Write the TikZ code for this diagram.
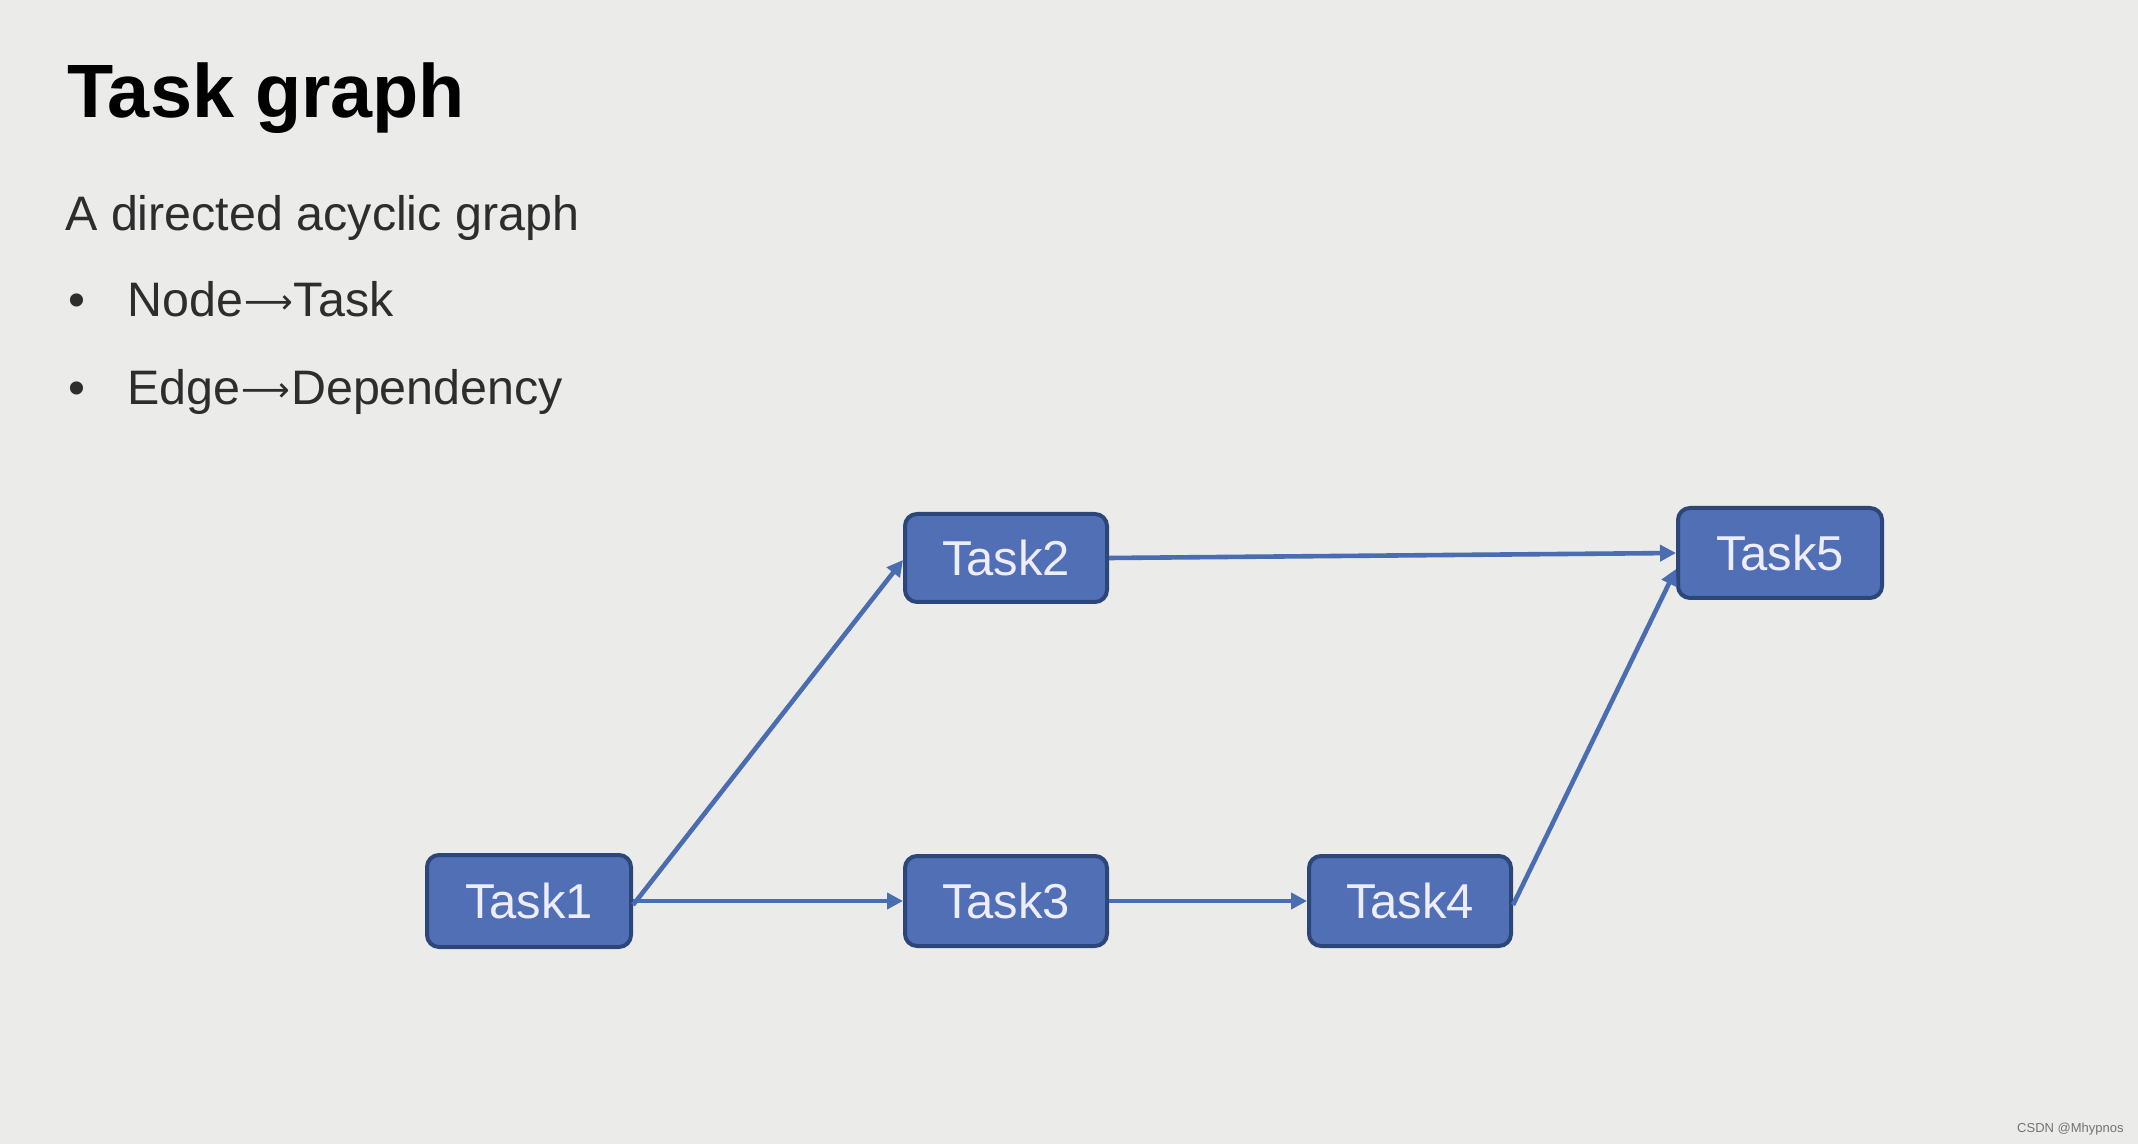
\documentclass[tikz,border=0pt]{standalone}
\usepackage{fontspec}
\setmainfont{Liberation Sans}
\newfontfamily\arrowfont{DejaVu Sans}
\usetikzlibrary{arrows.meta}
\definecolor{bgc}{RGB}{235,235,233}
\definecolor{boxfill}{RGB}{80,111,181}
\definecolor{boxline}{RGB}{45,70,122}
\definecolor{edgec}{RGB}{74,108,176}
\definecolor{txtc}{RGB}{45,45,45}
\newcommand{\longarr}{\kern0.5pt{\arrowfont\fontsize{17}{17}\selectfont\raisebox{1.5pt}{⟶}}\kern0.5pt}
\tikzset{
  taskbox/.style={draw=boxline, line width=2pt, fill=boxfill, rounded corners=6pt,
    minimum width=100pt, minimum height=45pt, inner sep=0pt,
    text=white!93!blue, font=\fontsize{24.5}{28}\selectfont},
  dep/.style={draw=edgec, line width=2.3pt, -{Triangle[length=8pt,width=8pt]}},
  bodytext/.style={anchor=base west, inner sep=0pt, text=txtc, font=\fontsize{24.2}{28}\selectfont}
}
\begin{document}
\begin{tikzpicture}[x=0.5pt,y=-0.5pt]
\fill[bgc] (0,0) rectangle (2138,1144);
\useasboundingbox (0,0) rectangle (2138,1144);
\node[anchor=base west, inner sep=0pt, font=\fontsize{37.8}{44}\selectfont\bfseries] (title) at (67,118) {Task graph};
\node[bodytext] (sub) at (65,231) {A directed acyclic graph};
\node[bodytext] (b1dot) at (68,317) {•};
\node[bodytext] (b1) at (127,317) {Node\longarr Task};
\node[bodytext] (b2dot) at (68,405) {•};
\node[bodytext] (b2) at (127,405) {Edge\longarr Dependency};
\node[taskbox, minimum width=102pt, minimum height=46pt] (t1) at (529,901) {Task1};
\node[taskbox, minimum width=101pt, minimum height=44pt] (t2) at (1006,558) {Task2};
\node[taskbox, minimum width=101pt, minimum height=45pt] (t3) at (1006,901) {Task3};
\node[taskbox, minimum width=101pt, minimum height=45pt] (t4) at (1410,901) {Task4};
\node[taskbox, minimum width=102pt, minimum height=45pt] (t5) at (1780,553) {Task5};
\draw[dep] ([yshift=-2pt]t1.east) -- ([yshift=-1pt]t2.west);
\draw[dep] (t1.east) -- (t3.west);
\draw[dep] (t3.east) -- (t4.west);
\draw[dep] (t2.east) -- (t5.west);
\draw[dep] ([yshift=-2pt]t4.east) -- ([yshift=-8pt]t5.west);
\node[anchor=base east, inner sep=0pt, text=black!55, font=\fontsize{6.5}{8}\selectfont] (csdn) at (2124,1132) {CSDN @Mhypnos};
\end{tikzpicture}
\end{document}
